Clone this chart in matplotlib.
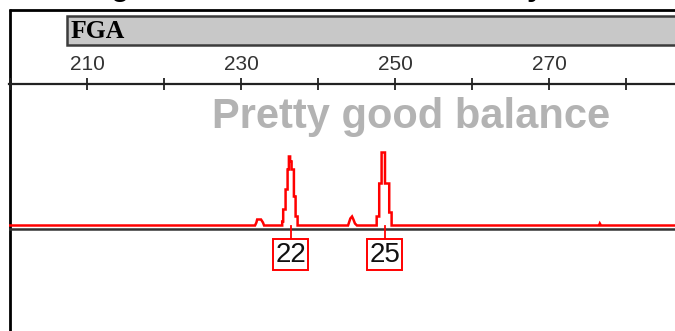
import matplotlib
matplotlib.use('Agg')
import matplotlib.pyplot as plt
import matplotlib.patches as patches
from matplotlib.ticker import FixedLocator, NullFormatter

# Electropherogram trace for the FGA locus (size in bp, height in RFU)
trace_bp = [199.87, 231.82, 232.00, 232.10, 232.60, 232.85, 233.00,
            235.35, 235.35, 235.48, 235.48, 235.79, 235.79, 236.05, 236.05,
            236.22, 236.22, 236.38, 236.38, 236.57, 236.57, 236.87, 236.87,
            237.09, 237.09, 237.35, 237.35,
            243.90, 244.20, 244.42, 244.60, 244.80, 245.06,
            247.62, 247.62, 247.95, 247.95, 248.26, 248.26, 248.70, 248.70,
            249.25, 249.25, 249.56, 249.56,
            276.50, 276.60, 276.75, 286.36]
trace_rfu = [0, 0, 60, 120, 120, 60, 0,
             0, 80, 80, 320, 320, 720, 720, 1120,
             1120, 1380, 1380, 1280, 1280, 1120, 1120, 580,
             580, 180, 180, 0,
             0, 140, 180, 120, 40, 0,
             0, 180, 180, 840, 840, 1460, 1460, 840,
             840, 260, 260, 0,
             0, 40, 0, 0]

# Allele calls
allele_names = ['22', '25']
allele_sizes = [236.45, 248.65]

locus_name = 'FGA'
note_text = 'Pretty good balance'

major_ticks = [210, 230, 250, 270]
minor_ticks = [200, 220, 240, 260, 280]

W, H = 675, 331
fig = plt.figure(figsize=(W / 100, H / 100), dpi=100)

# pixel-space layer for the frame and header
deco = fig.add_axes([0, 0, 1, 1])
deco.set_xlim(0, W)
deco.set_ylim(H, 0)
deco.axis('off')

deco.plot([10, 10], [9, H], color='black', lw=2, solid_capstyle='butt')
deco.plot([9, W], [10, 10], color='black', lw=2, solid_capstyle='butt')
deco.add_patch(patches.Rectangle((67, 15.5), 620, 29, facecolor='#c8c8c8',
                                 edgecolor='#3c3c3c', lw=1.8))
deco.text(71, 31, locus_name, fontsize=18.5, fontweight='bold',
          family=['Liberation Serif', 'DejaVu Serif'], va='center', ha='left')
deco.text(411, 128.3, note_text, fontsize=30, fontweight='bold', color='#b3b3b3',
          family=['Liberation Sans', 'DejaVu Sans'], ha='center', va='baseline')
# title above the crop, only descenders visible
deco.text(120, -5, 'g', fontsize=22, fontweight='bold',
          family=['Liberation Sans', 'DejaVu Sans'], ha='center', va='baseline')
deco.text(535, -5, 'y', fontsize=22, fontweight='bold',
          family=['Liberation Sans', 'DejaVu Sans'], ha='center', va='baseline')

# data layer: 1 px = 20 RFU, baseline at pixel row 225.5
px_per_bp = 7.7
left_px = 9
x0 = 210 - (87 - left_px) / px_per_bp
x1 = x0 + (W - left_px) / px_per_bp
rfu_px = 20
base_px = 225.5
ax = fig.add_axes([left_px / W, 0, (W - left_px) / W, 1])
ax.patch.set_alpha(0)
ax.set_xlim(x0, x1)
ax.set_ylim(-(H - base_px) * rfu_px, base_px * rfu_px)

ruler_y = (base_px - 84.3) * rfu_px
for s in ['left', 'right', 'bottom']:
    ax.spines[s].set_visible(False)
ax.spines['top'].set_position(('data', ruler_y))
ax.spines['top'].set_linewidth(1.6)
ax.spines['top'].set_color('#222222')
ax.xaxis.set_ticks_position('top')
ax.xaxis.set_major_locator(FixedLocator(major_ticks))
ax.xaxis.set_minor_locator(FixedLocator(minor_ticks))
ax.xaxis.set_minor_formatter(NullFormatter())
ax.set_xticklabels([str(t) for t in major_ticks])
ax.tick_params(axis='x', which='both', direction='inout', length=8.5, width=1.3,
               color='#222222')
ax.tick_params(axis='x', which='major', labelsize=15, labelcolor='#333333', pad=3)
ax.set_yticks([])
for lab in ax.get_xticklabels():
    lab.set_family(['Liberation Sans', 'DejaVu Sans'])

ax.axhline(-3.5 * rfu_px, color='#333333', lw=1.8)
ax.plot(trace_bp, trace_rfu, color='red', lw=1.8, solid_joinstyle='miter')

box_y = -(254.7 - base_px) * rfu_px
box_top = -(237.7 - base_px) * rfu_px
for name, size in zip(allele_names, allele_sizes):
    ax.plot([size, size], [0, box_top], color='red', lw=1.3)
    ax.text(size, box_y, name, ha='center', va='center', fontsize=20,
            family=['Liberation Sans Narrow', 'Liberation Sans', 'DejaVu Sans'],
            color='#111111',
            bbox=dict(boxstyle='square,pad=0.08', facecolor='white',
                      edgecolor='red', lw=1.4))

fig.savefig('out.png', dpi=100)
